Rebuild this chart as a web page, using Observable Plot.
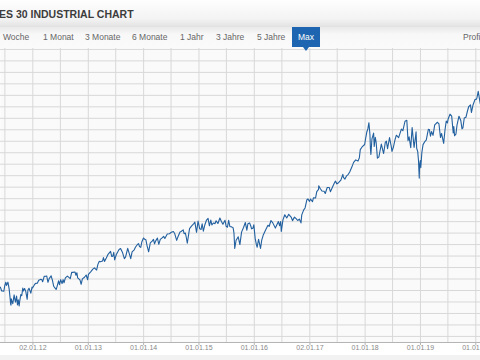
<!DOCTYPE html>
<html><head><meta charset="utf-8">
<script src="https://cdn.jsdelivr.net/npm/d3@7"></script>
<script src="https://cdn.jsdelivr.net/npm/@observablehq/plot@0.6"></script>
<style>
html,body{margin:0;padding:0;background:#fff;width:480px;height:360px;overflow:hidden;font-family:Arial,"Liberation Sans",sans-serif;}
#head{position:absolute;left:0;top:0;width:480px;height:27px;background:linear-gradient(#fefefe,#f3f3f3 70%,#e2e2e2);}
#title{position:absolute;left:-1px;top:8px;font-weight:bold;font-size:10.5px;color:#3c3c3c;white-space:nowrap;}
#tabs{position:absolute;left:0;top:27px;width:480px;height:21px;background:linear-gradient(#e9e9e9,#f8f8f8 35%,#fafafa);}
.tab{position:absolute;top:5px;font-size:8.5px;color:#666;white-space:nowrap;}
#max{position:absolute;left:292px;top:0;width:28px;height:20px;background:#1d65b0;color:#fff;font-size:8.5px;text-align:center;line-height:20px;z-index:2}
#max:after{content:"";position:absolute;left:11px;bottom:-4px;border-left:3px solid transparent;border-right:3px solid transparent;border-top:4px solid #1d65b0;}
#chart{position:absolute;left:0;top:48px;}
#foot{position:absolute;left:0;top:355px;width:480px;height:5px;background:#f2f2f2;}
</style>
</head>
<body>
<div id="head"><div id="title">ES 30 INDUSTRIAL CHART</div></div>
<div id="tabs">
  <span class="tab" style="left:3px">Woche</span>
  <span class="tab" style="left:43px">1 Monat</span>
  <span class="tab" style="left:85px">3 Monate</span>
  <span class="tab" style="left:132px">6 Monate</span>
  <span class="tab" style="left:180px">1 Jahr</span>
  <span class="tab" style="left:216px">3 Jahre</span>
  <span class="tab" style="left:257px">5 Jahre</span>
  <div id="max">Max</div>
  <span class="tab" style="left:463px">Profi</span>
</div>
<div id="foot"></div>
<div id="chart"></div>
<script>
const dates = [
"2011-06-01","2011-06-10","2011-06-16","2011-06-24","2011-06-30","2011-07-07","2011-07-12","2011-07-21","2011-07-29","2011-08-04","2011-08-08","2011-08-10","2011-08-12","2011-08-18","2011-08-22","2011-08-31","2011-09-06","2011-09-09","2011-09-16","2011-09-22","2011-09-27","2011-10-03","2011-10-07","2011-10-14","2011-10-20","2011-10-27","2011-10-31","2011-11-08","2011-11-16","2011-11-25","2011-11-30","2011-12-07","2011-12-19","2011-12-27","2011-12-30",
"2012-01-10","2012-01-19","2012-01-31","2012-02-09","2012-02-21","2012-02-29","2012-03-06","2012-03-16","2012-03-26","2012-04-02","2012-04-10","2012-04-18","2012-05-01","2012-05-10","2012-05-18","2012-06-01","2012-06-04","2012-06-19","2012-06-25","2012-07-03","2012-07-12","2012-07-19","2012-07-25","2012-08-03","2012-08-16","2012-08-24","2012-09-04","2012-09-14","2012-09-21","2012-10-05","2012-10-12","2012-10-18","2012-10-23","2012-11-07","2012-11-15","2012-11-23","2012-12-07","2012-12-18","2012-12-28",
"2013-01-02","2013-01-18","2013-01-31","2013-02-11","2013-02-25","2013-03-05","2013-03-14","2013-03-22","2013-04-05","2013-04-11","2013-04-18","2013-04-30","2013-05-10","2013-05-28","2013-06-05","2013-06-12","2013-06-18","2013-06-24","2013-07-05","2013-07-23","2013-08-02","2013-08-14","2013-08-27","2013-09-04","2013-09-18","2013-09-26","2013-10-08","2013-10-17","2013-10-31","2013-11-08","2013-11-21","2013-11-29","2013-12-05","2013-12-13","2013-12-20","2013-12-31",
"2014-01-08","2014-01-16","2014-01-24","2014-02-03","2014-02-14","2014-02-28","2014-03-07","2014-03-14","2014-03-21","2014-04-02","2014-04-11","2014-04-21","2014-05-01","2014-05-13","2014-05-21","2014-06-06","2014-06-20","2014-07-03","2014-07-16","2014-07-25","2014-08-07","2014-08-15","2014-08-29","2014-09-05","2014-09-19","2014-09-25","2014-10-03","2014-10-09","2014-10-16","2014-10-24","2014-10-31","2014-11-14","2014-11-28","2014-12-05","2014-12-16","2014-12-26",
"2015-01-06","2015-01-15","2015-01-22","2015-01-30","2015-02-09","2015-02-20","2015-03-02","2015-03-11","2015-03-20","2015-03-27","2015-04-06","2015-04-17","2015-04-24","2015-05-06","2015-05-19","2015-05-29","2015-06-08","2015-06-22","2015-06-29","2015-07-08","2015-07-16","2015-07-24","2015-08-05","2015-08-14","2015-08-20","2015-08-25","2015-09-03","2015-09-17","2015-09-28","2015-10-09","2015-10-22","2015-11-03","2015-11-13","2015-11-20","2015-12-01","2015-12-10","2015-12-14","2015-12-22","2015-12-29",
"2016-01-07","2016-01-15","2016-01-20","2016-01-29","2016-02-11","2016-02-19","2016-03-01","2016-03-14","2016-03-31","2016-04-08","2016-04-20","2016-05-02","2016-05-19","2016-06-08","2016-06-16","2016-06-23","2016-06-27","2016-07-08","2016-07-20","2016-08-02","2016-08-15","2016-08-31","2016-09-09","2016-09-22","2016-10-03","2016-10-13","2016-10-24","2016-11-04","2016-11-09","2016-11-22","2016-12-01","2016-12-13","2016-12-20","2016-12-30",
"2017-01-06","2017-01-19","2017-01-25","2017-02-08","2017-02-16","2017-02-28","2017-03-01","2017-03-10","2017-03-22","2017-04-05","2017-04-13","2017-04-26","2017-05-09","2017-05-17","2017-05-31","2017-06-09","2017-06-19","2017-06-29","2017-07-11","2017-07-25","2017-08-07","2017-08-11","2017-08-21","2017-09-01","2017-09-12","2017-09-22","2017-10-06","2017-10-17","2017-10-31","2017-11-15","2017-11-24","2017-11-30","2017-12-12","2017-12-29",
"2018-01-05","2018-01-12","2018-01-19","2018-01-26","2018-02-02","2018-02-05","2018-02-08","2018-02-15","2018-02-26","2018-03-02","2018-03-09","2018-03-15","2018-03-23","2018-04-02","2018-04-06","2018-04-18","2018-05-03","2018-05-14","2018-05-21","2018-05-29","2018-06-11","2018-06-22","2018-06-27","2018-07-06","2018-07-17","2018-07-26","2018-08-10","2018-08-28","2018-09-07","2018-09-21","2018-10-03","2018-10-11","2018-10-18","2018-10-29","2018-11-07","2018-11-20","2018-11-29","2018-12-03","2018-12-07","2018-12-14","2018-12-19","2018-12-24","2018-12-26","2018-12-31",
"2019-01-03","2019-01-10","2019-01-18","2019-01-31","2019-02-08","2019-02-22","2019-03-01","2019-03-08","2019-03-15","2019-03-25","2019-04-05","2019-04-23","2019-05-03","2019-05-13","2019-05-20","2019-06-03","2019-06-12","2019-06-20","2019-06-28","2019-07-03","2019-07-15","2019-07-26","2019-08-05","2019-08-09","2019-08-14","2019-08-23","2019-08-30","2019-09-12","2019-09-24","2019-10-02","2019-10-08","2019-10-17","2019-10-28","2019-11-08","2019-11-15","2019-11-27","2019-12-03","2019-12-13","2019-12-27",
"2020-01-03","2020-01-08","2020-01-17","2020-01-27","2020-01-31"
];
const values = [
12290,11952,11962,11934,12414,12719,12447,12724,12143,11384,10810,10719,11269,10990,10855,11614,11139,10992,11509,10733,11190,10655,11103,11644,11541,12209,11955,12170,11905,11231,12046,12196,11766,12291,12218,
12462,12623,12633,12890,12965,12952,12759,13233,13241,13264,12716,13032,13279,12855,12369,12119,12101,12837,12502,12943,12604,12943,12676,13096,13250,13158,13035,13594,13579,13610,13328,13548,13102,12932,12543,13010,13155,13350,12938,
13412,13650,13861,13971,13784,14254,14539,14512,14565,14865,14537,14840,15118,15409,14960,14995,15318,14660,15135,15568,15658,15337,14776,14930,15676,15328,14776,15372,15546,15762,16009,16086,15821,15755,16221,16577,
16462,16418,15880,15372,16154,16322,16453,16066,16303,16573,16027,16449,16558,16715,16533,16924,16948,17068,17138,16961,16369,16663,17098,17138,17280,16946,17009,16660,16117,16805,17391,17635,17828,17958,17068,18053,
17372,17320,17814,17165,17729,18140,18288,17635,18128,17712,17880,17826,18080,17841,18312,18011,17767,18119,17596,17515,18120,17568,17540,17477,16990,15666,16374,16674,16001,17084,17489,17918,17245,17824,17888,17574,17368,17418,17720,
16514,15988,15766,16466,15660,16391,16865,17229,17685,17577,18096,17891,17435,18005,17641,18011,17140,18147,18595,18314,18636,18401,18085,18392,18253,18098,18223,17888,18590,19023,19191,19911,19974,19763,
19964,19732,20069,20054,20620,20812,21115,20903,20661,20648,20453,20975,20975,20606,21009,21272,21528,21287,21409,21613,22118,21858,21703,21988,22118,22349,22773,23157,23377,23271,23558,24272,24504,24719,
25295,25803,26071,26616,25521,24345,23860,25200,25709,24538,25336,24873,23533,23644,23932,24748,23930,24899,25013,24361,25322,24580,24117,24456,25119,25527,25313,26064,25917,26743,26828,25052,25380,24443,26191,24465,25338,25826,24389,24100,23324,21792,22878,23327,
22686,24001,24706,24999,25106,26031,26026,25450,25848,25516,26425,26656,26505,25324,25680,24819,26004,26753,26600,26966,27359,27192,25718,26287,25479,25629,26403,27182,26807,26078,26164,27025,27091,27681,28005,28164,27502,28135,28645,
28635,28745,29348,28535,28256
];
const gridDates = ["2011-07-01","2012-01-01","2012-07-01","2013-01-01","2013-07-01","2014-01-01","2014-07-01","2015-01-01","2015-07-01","2016-01-01","2016-07-01","2017-01-01","2017-07-01","2018-01-01","2018-07-01","2019-01-01","2019-07-01","2020-01-01"];
const tickDates = ["2012-01-02","2013-01-01","2014-01-01","2015-01-01","2016-01-01","2017-01-02","2018-01-01","2019-01-01","2020-01-01"];
const tickLabels = ["02.01.12","01.01.13","01.01.14","01.01.15","01.01.16","02.01.17","01.01.18","01.01.19","01.01.20"];
const gridValues = [8000,9000,10000,11000,12000,13000,14000,15000,16000,17000,18000,19000,20000,21000,22000,23000,24000,25000,26000,27000,28000,29000,30000,31000,32000,33000];

const data = dates.map((d, i) => ({date: new Date(d), value: values[i]}));
const labelOf = new Map(tickDates.map((d, i) => [+new Date(d), tickLabels[i]]));

const chart = Plot.plot({
  width: 480, height: 312,
  marginTop: 0, marginRight: 0, marginBottom: 18, marginLeft: 0,
  style: {background: "transparent", fontFamily: "Arial, 'Liberation Sans', sans-serif", overflow: "hidden"},
  x: {type: "utc", domain: [new Date("2011-06-02"), new Date("2020-02-01")], axis: null},
  y: {domain: [7470, 33080], axis: null},
  marks: [
    Plot.frame({fill: "#fafafa", stroke: null}),
    Plot.gridY(gridValues, {stroke: "#d8d8d8", strokeOpacity: 1}),
    Plot.gridX(gridDates.map(d => new Date(d)), {stroke: "#d8d8d8", strokeOpacity: 1}),
    Plot.lineY(data, {x: "date", y: "value", stroke: "#22609f", strokeWidth: 1.1, clip: true}),
    Plot.frame({anchor: "bottom", stroke: "#b4b4b4"}),
    Plot.axisX(tickDates.map(d => new Date(d)), {
      tickFormat: d => labelOf.get(+d), tickSize: 3, tickPadding: 0,
      fontSize: 7, stroke: "#b4b4b4", fill: "#888", textStroke: "none"
    })
  ]
});
document.getElementById("chart").appendChild(chart);
</script>
</body></html>
